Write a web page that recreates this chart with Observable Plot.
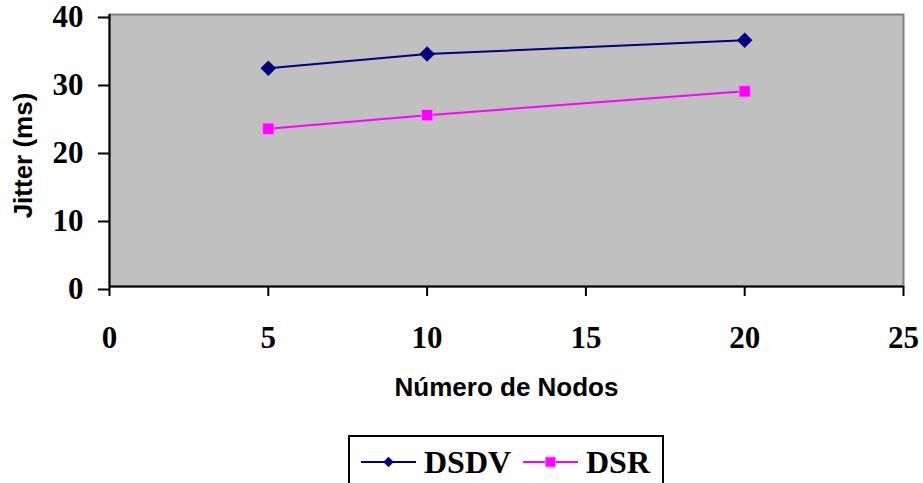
<!DOCTYPE html>
<html>
<head>
<meta charset="utf-8">
<script src="https://cdn.jsdelivr.net/npm/d3@7"></script>
<script src="https://cdn.jsdelivr.net/npm/@observablehq/plot@0.6"></script>
<style>
  html, body { margin: 0; padding: 0; background: white; }
  #chart { position: relative; width: 923px; height: 483px; overflow: hidden; }
</style>
</head>
<body>
<div id="chart"></div>
<script>
// ---- data ----
const nodos = [5, 10, 20];
const dsdv = [32.1, 34.2, 36.2];
const dsr = [23.2, 25.2, 28.7];
const seriesNames = ["DSDV", "DSR"];
const seriesColors = ["#000080", "#ff00ff"];
const xTicks = [0, 5, 10, 15, 20, 25];
const yTicks = [0, 10, 20, 30, 40];
const xTitle = "Número de Nodos";
const yTitle = "Jitter (ms)";

const rowsDSDV = nodos.map((n, i) => ({n, v: dsdv[i]}));
const rowsDSR = nodos.map((n, i) => ({n, v: dsr[i]}));

const serif = "'Liberation Serif', 'Times New Roman', serif";
const sans = "'Liberation Sans', Arial, sans-serif";

const plot = Plot.plot({
  width: 923,
  height: 483,
  marginLeft: 109,
  marginRight: 20,
  marginTop: 14,
  marginBottom: 197,
  x: {domain: [0, 25], ticks: xTicks},
  y: {domain: [0, 40], ticks: yTicks},
  style: {background: "white", fontFamily: serif, fontWeight: "bold", color: "black"},
  marks: [
    Plot.frame({fill: "#c0c0c0", stroke: "#808080", strokeWidth: 2}),
    Plot.ruleX([0], {stroke: "black", strokeWidth: 2}),
    Plot.ruleY([0], {stroke: "black", strokeWidth: 2}),
    Plot.axisX({ticks: xTicks, tickSize: 10, tickPadding: 29, fontSize: 31, fontFamily: serif, fontWeight: "bold", strokeWidth: 2, label: null, tickFormat: d => String(d)}),
    Plot.axisY({ticks: yTicks, tickSize: 11, tickPadding: 15, fontSize: 31, fontFamily: serif, fontWeight: "bold", strokeWidth: 2, label: null, dy: 3, tickFormat: d => String(d)}),
    Plot.line(rowsDSDV, {x: "n", y: "v", stroke: seriesColors[0], strokeWidth: 2}),
    Plot.line(rowsDSR, {x: "n", y: "v", stroke: seriesColors[1], strokeWidth: 2}),
    Plot.dot(rowsDSDV, {x: "n", y: "v", symbol: "diamond2", r: 7, fill: seriesColors[0], stroke: "none"}),
    Plot.dot(rowsDSR, {x: "n", y: "v", symbol: "square", r: 6.4, fill: seriesColors[1], stroke: "#ff80ff", strokeWidth: 1}),
    Plot.text([xTitle], {text: d => d, frameAnchor: "bottom", textAnchor: "middle", lineAnchor: "middle", dy: 101, fontFamily: sans, fontSize: 26, fontWeight: "bold", fill: "black"}),
    Plot.text([yTitle], {text: d => d, frameAnchor: "left", textAnchor: "middle", lineAnchor: "middle", dx: -86, dy: 5, rotate: -90, fontFamily: sans, fontSize: 26, fontWeight: "bold", fill: "black"})
  ]
});

document.getElementById("chart").appendChild(plot);

// ---- legend ----
const svg = d3.select(plot);
const lg = svg.append("g").attr("text-anchor", "start");
lg.append("rect").attr("x", 349).attr("y", 436).attr("width", 314).attr("height", 60)
  .attr("fill", "white").attr("stroke", "black").attr("stroke-width", 2);
const items = [
  {x0: 361, x1: 416, tx: 424, sym: d3.symbolDiamond2, size: 70},
  {x0: 523, x1: 578, tx: 586, sym: d3.symbolSquare, size: 100}
];
items.forEach((it, i) => {
  const cy = 462;
  lg.append("line").attr("x1", it.x0).attr("x2", it.x1).attr("y1", cy).attr("y2", cy)
    .attr("stroke", seriesColors[i]).attr("stroke-width", 2);
  lg.append("path").attr("d", d3.symbol(it.sym, it.size)())
    .attr("transform", `translate(${(it.x0 + it.x1) / 2},${cy})`)
    .attr("fill", seriesColors[i]).attr("stroke", i === 1 ? "#ff80ff" : "none");
  lg.append("text").attr("x", it.tx).attr("y", 473).attr("text-anchor", "start")
    .attr("font-family", serif).attr("font-weight", "bold").attr("font-size", 32)
    .attr("fill", "black").text(seriesNames[i]);
});
</script>
</body>
</html>
